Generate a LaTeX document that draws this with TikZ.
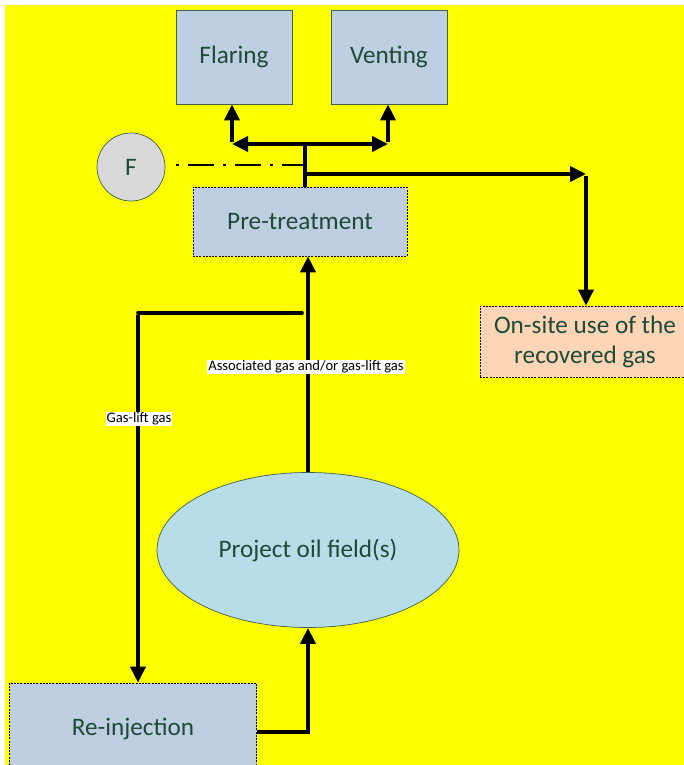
\documentclass[tikz,border=0pt]{standalone}
\usepackage{fontspec}
\setmainfont{Carlito}
\usetikzlibrary{arrows.meta,shapes.geometric,calc}
\definecolor{bgyellow}{HTML}{FFFF00}
\definecolor{boxblue}{HTML}{BDCFE1}
\definecolor{peach}{HTML}{FBD5B5}
\definecolor{fieldblue}{HTML}{B6DDE8}
\definecolor{fgray}{HTML}{D9D9D9}
\definecolor{txtgreen}{HTML}{1F4A38}
\definecolor{edgegreen}{HTML}{3F6150}
\tikzset{
  bigtext/.style={font=\fontsize{25.2}{30}\selectfont, text=txtgreen, align=center},
  solidbox/.style={bigtext, draw=edgegreen, line width=0.7pt, fill=boxblue, inner sep=0pt},
  dashbox/.style={bigtext, draw=black, line width=0.6pt, dash pattern=on 2pt off 1.2pt, inner sep=0pt},
  arr/.style={line width=3.6pt, -{Triangle[length=16pt,width=15pt]}},
  plain/.style={line width=3.6pt},
  lbl/.style={fill=white, font=\fontsize{14.6}{17}\selectfont, text=black, inner sep=1pt},
  dashdotline/.style={line width=2pt, dash pattern=on 3pt off 9pt on 26pt off 9pt}
}
\begin{document}
\begin{tikzpicture}[x=1pt,y=-1pt]
\useasboundingbox (0,0) rectangle (684,765);
\fill[white] (0,0) rectangle (684,765);
\fill[bgyellow] (5,5) rectangle (684,765);

% boxes
\node[solidbox, minimum width=116pt, minimum height=94pt] (flaring) at (234,57) {Flaring};
\node[solidbox, minimum width=116pt, minimum height=94pt] (venting) at (389,57) {Venting};
\node[draw=edgegreen, line width=0.7pt, fill=fgray, circle, minimum size=68pt, inner sep=0pt,
      font=\fontsize{25.2}{30}\selectfont, text=txtgreen] (F) at (131,167) {F};
\node[dashbox, fill=boxblue, minimum width=214pt, minimum height=69pt] (pre) at (300,221.5) {Pre-treatment};
\node[dashbox, fill=peach, minimum width=210pt, minimum height=71pt] (onsite) at (585,341.5) {On-site use of the\\recovered gas};
\node[ellipse, draw=edgegreen, line width=0.7pt, fill=fieldblue, minimum width=302pt, minimum height=155pt,
      inner sep=0pt, bigtext] (field) at (308,550) {Project oil field(s)};
\node[dashbox, fill=boxblue, minimum width=247pt, minimum height=98pt] (reinj) at (133,732) {\raisebox{10pt}{Re-injection}};

% junction coordinates
\coordinate (jt) at (305,144);
\coordinate (fl) at (232,144);
\coordinate (vt) at (388,144);
\coordinate (jr) at (305,174);
\coordinate (ur) at (586,174);
\coordinate (gl) at (302,313);
\coordinate (gc) at (138,313);
\coordinate (df) at (305,165);

% top connectors
\draw[plain] (jt |- pre.north) -- ([yshift=-1.8pt]jt);
\draw[arr] (jt) -- (fl);
\draw[arr] (jt) -- (vt);
\draw[arr] ([yshift=1.8pt]fl) -- (fl |- flaring.south);
\draw[arr] ([yshift=1.8pt]vt) -- (vt |- venting.south);
\draw[arr] (jr) -- (ur);
\draw[arr] ([yshift=-1.8pt]ur) -- (ur |- onsite.north);
\draw[dashdotline] ([xshift=11pt]F.east |- df) -- (df);

% middle connectors
\draw[arr] (field.north) -- (field.north |- pre.south);
\draw[plain, line cap=round] (gl) -- (gc);
\draw[arr] ([yshift=-1.8pt]gc) -- (gc |- reinj.north);
\draw[plain] (reinj.east) -- ([xshift=1.8pt]reinj.east -| field.south);
\draw[arr] (reinj.east -| field.south) -- (field.south);

% labels
\node[lbl] (assoc) at (306,367) {Associated gas and/or gas-lift gas};
\node[lbl] (gaslift) at (139,419) {Gas-lift gas};
\end{tikzpicture}
\end{document}
